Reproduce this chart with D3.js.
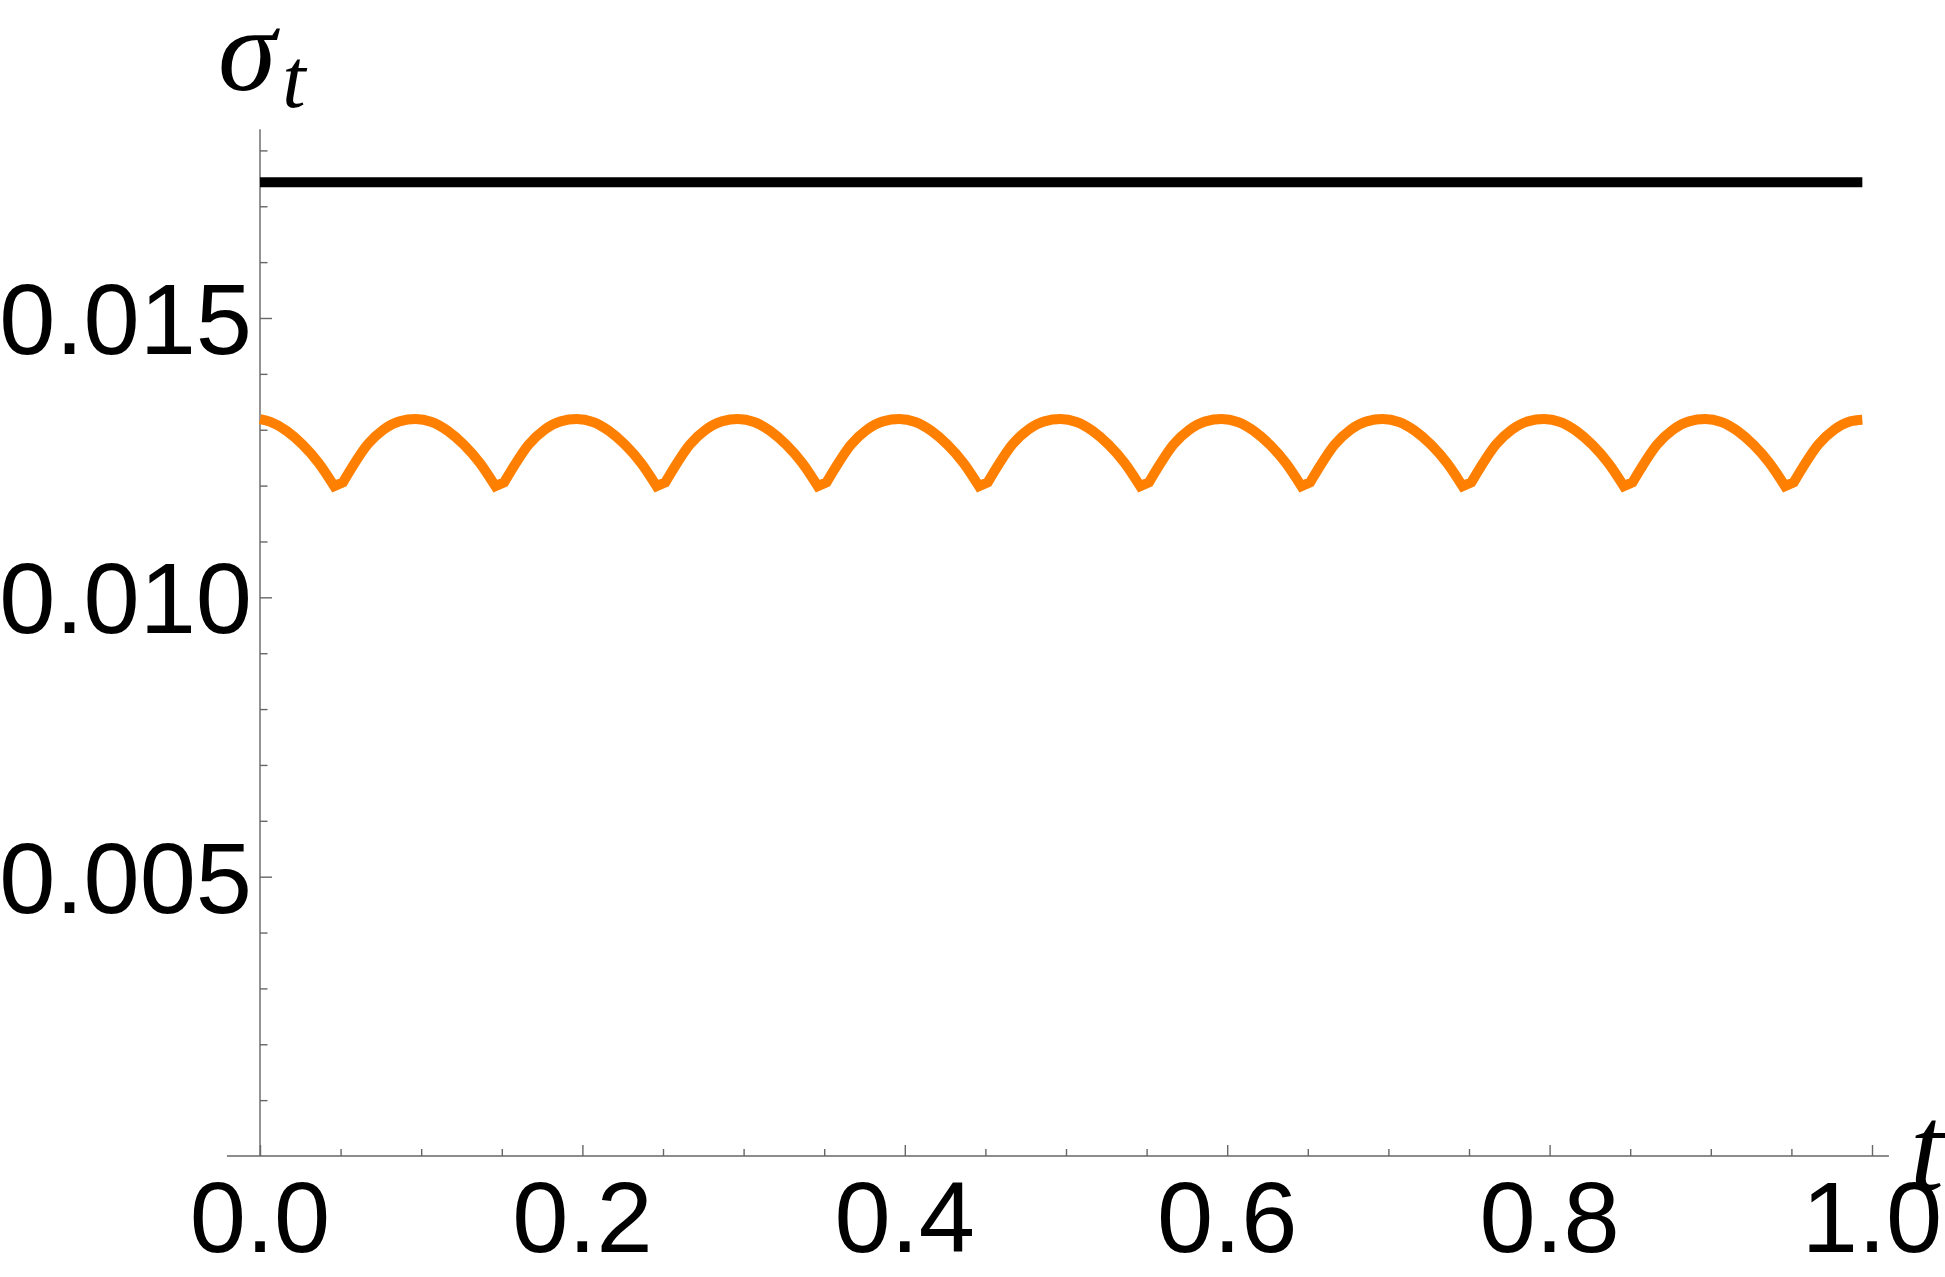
<!DOCTYPE html>
<html>
<head>
<meta charset="utf-8">
<script src="https://cdn.jsdelivr.net/npm/d3@7"></script>
<style>
    body { margin: 0; background: #fff; }
    svg { display: block; }
    .tick-label { font-family: "Liberation Sans", Arial, sans-serif; font-size: 101px; fill: #000; }
    .axis-label { font-family: "Liberation Serif", "Times New Roman", serif; font-style: italic; fill: #000; }
</style>
</head>
<body>
<svg width="1945" height="1277"></svg>
<script>
// values
var tOrange = [
    0,
    0.0065, 0.0165, 0.0265, 0.0365, 0.046, 0.0515, 0.0565, 0.0665, 0.0765, 0.0865, 0.0965,
    0.1065, 0.1165, 0.1265, 0.1365, 0.146, 0.1515, 0.1565, 0.1665, 0.1765, 0.1865, 0.1965,
    0.2065, 0.2165, 0.2265, 0.2365, 0.246, 0.2515, 0.2565, 0.2665, 0.2765, 0.2865, 0.2965,
    0.3065, 0.3165, 0.3265, 0.3365, 0.346, 0.3515, 0.3565, 0.3665, 0.3765, 0.3865, 0.3965,
    0.4065, 0.4165, 0.4265, 0.4365, 0.446, 0.4515, 0.4565, 0.4665, 0.4765, 0.4865, 0.4965,
    0.5065, 0.5165, 0.5265, 0.5365, 0.546, 0.5515, 0.5565, 0.5665, 0.5765, 0.5865, 0.5965,
    0.6065, 0.6165, 0.6265, 0.6365, 0.646, 0.6515, 0.6565, 0.6665, 0.6765, 0.6865, 0.6965,
    0.7065, 0.7165, 0.7265, 0.7365, 0.746, 0.7515, 0.7565, 0.7665, 0.7765, 0.7865, 0.7965,
    0.8065, 0.8165, 0.8265, 0.8365, 0.846, 0.8515, 0.8565, 0.8665, 0.8765, 0.8865, 0.8965,
    0.9065, 0.9165, 0.9265, 0.9365, 0.946, 0.9515, 0.9565, 0.9665, 0.9765, 0.9865, 0.994
];
var sigmaOrange = [
    0.01319,
    0.01314, 0.01298, 0.01273, 0.01240, 0.01199, 0.01206, 0.01230, 0.01273, 0.01300, 0.01315, 0.01319,
    0.01314, 0.01298, 0.01273, 0.01240, 0.01199, 0.01206, 0.01230, 0.01273, 0.01300, 0.01315, 0.01319,
    0.01314, 0.01298, 0.01273, 0.01240, 0.01199, 0.01206, 0.01230, 0.01273, 0.01300, 0.01315, 0.01319,
    0.01314, 0.01298, 0.01273, 0.01240, 0.01199, 0.01206, 0.01230, 0.01273, 0.01300, 0.01315, 0.01319,
    0.01314, 0.01298, 0.01273, 0.01240, 0.01199, 0.01206, 0.01230, 0.01273, 0.01300, 0.01315, 0.01319,
    0.01314, 0.01298, 0.01273, 0.01240, 0.01199, 0.01206, 0.01230, 0.01273, 0.01300, 0.01315, 0.01319,
    0.01314, 0.01298, 0.01273, 0.01240, 0.01199, 0.01206, 0.01230, 0.01273, 0.01300, 0.01315, 0.01319,
    0.01314, 0.01298, 0.01273, 0.01240, 0.01199, 0.01206, 0.01230, 0.01273, 0.01300, 0.01315, 0.01319,
    0.01314, 0.01298, 0.01273, 0.01240, 0.01199, 0.01206, 0.01230, 0.01273, 0.01300, 0.01315, 0.01319,
    0.01314, 0.01298, 0.01273, 0.01240, 0.01199, 0.01206, 0.01230, 0.01273, 0.01300, 0.01315, 0.01318
];
var tBlack = [0, 0.994];
var sigmaBlack = [0.01743, 0.01743];

var xMajor = [0, 0.2, 0.4, 0.6, 0.8, 1.0];
var xLabels = ['0.0', '0.2', '0.4', '0.6', '0.8', '1.0'];
var yMajor = [0.005, 0.010, 0.015];
var yLabels = ['0.005', '0.010', '0.015'];

function drawChart() {
    var svg = d3.select('svg');
    var x = d3.scaleLinear().domain([0, 1]).range([260, 1872]);
    var y = d3.scaleLinear().domain([0, 0.015]).range([1156, 318]);

    // axes, Mathematica style: grey lines, ticks pointing inward
    var xAxis = d3.axisTop(x)
        .tickValues(d3.range(0, 21).map(i => i * 0.05))
        .tickSize(7).tickFormat('');
    var gx = svg.append('g').attr('transform', 'translate(0,1156)').call(xAxis);
    gx.selectAll('.tick line')
        .attr('y2', d => (Math.round(d * 100) % 20 === 0) ? -11 : -7);
    gx.select('.domain').attr('d', 'M' + x(-0.0205) + ',0H' + x(1.0105));

    var yAxis = d3.axisRight(y)
        .tickValues(d3.range(1, 19).map(i => i * 0.001))
        .tickSize(7).tickFormat('');
    var gy = svg.append('g').attr('transform', 'translate(260,0)').call(yAxis);
    gy.selectAll('.tick line')
        .attr('x2', d => (Math.round(d * 1000) % 5 === 0) ? 12 : 7.5);
    gy.select('.domain').attr('d', 'M0,' + y(0) + 'V' + y(0.01838));

    svg.selectAll('.domain, .tick line')
        .attr('stroke', '#666').attr('stroke-width', 1.4);

    // tick labels
    svg.append('g').selectAll('text')
        .data(xMajor)
        .enter().append('text')
        .attr('class', 'tick-label')
        .attr('x', d => x(d))
        .attr('y', 1252)
        .attr('text-anchor', 'middle')
        .text((d, i) => xLabels[i]);

    svg.append('g').selectAll('text')
        .data(yMajor)
        .enter().append('text')
        .attr('class', 'tick-label')
        .attr('x', 252)
        .attr('y', d => y(d))
        .attr('dy', '0.358em')
        .attr('text-anchor', 'end')
        .text((d, i) => yLabels[i]);

    // axis labels
    var yl = svg.append('text').attr('class', 'axis-label')
        .attr('x', 218).attr('y', 90);
    yl.append('tspan').attr('font-size', 118).text('σ');
    yl.append('tspan').attr('font-size', 84).attr('dx', 6).attr('dy', 17).text('t');

    svg.append('text').attr('class', 'axis-label')
        .attr('x', 1910).attr('y', 1190)
        .attr('font-size', 122)
        .text('t');

    // curves
    var line = d3.line()
        .x(d => x(d[0]))
        .y(d => y(d[1]));
    var smooth = d3.line()
        .x(d => x(d[0]))
        .y(d => y(d[1]))
        .curve(d3.curveMonotoneX);

    svg.append('path')
        .datum(tBlack.map((t, i) => [t, sigmaBlack[i]]))
        .attr('d', line)
        .attr('fill', 'none')
        .attr('stroke', '#000')
        .attr('stroke-width', 10);

    // orange: smooth arches, sharp corners at the cusps
    var pts = tOrange.map((t, i) => [t, sigmaOrange[i]]);
    var cusps = [];
    for (var i = 1; i < pts.length - 1; i++) {
        if (pts[i][1] < pts[i - 1][1] && pts[i][1] < pts[i + 1][1]) cusps.push(i);
    }
    var d = smooth(pts.slice(0, cusps[0] + 1));
    cusps.forEach((c, k) => {
        var end = k + 1 < cusps.length ? cusps[k + 1] : pts.length - 1;
        d += 'L' + x(pts[c + 1][0]) + ',' + y(pts[c + 1][1]);
        var seg = smooth(pts.slice(c + 1, end + 1));
        d += seg.slice(seg.search(/[CL]/));
    });

    svg.append('path')
        .attr('d', d)
        .attr('fill', 'none')
        .attr('stroke', '#ff8000')
        .attr('stroke-width', 10)
        .attr('stroke-miterlimit', 3);
}
drawChart();
</script>
</body>
</html>
